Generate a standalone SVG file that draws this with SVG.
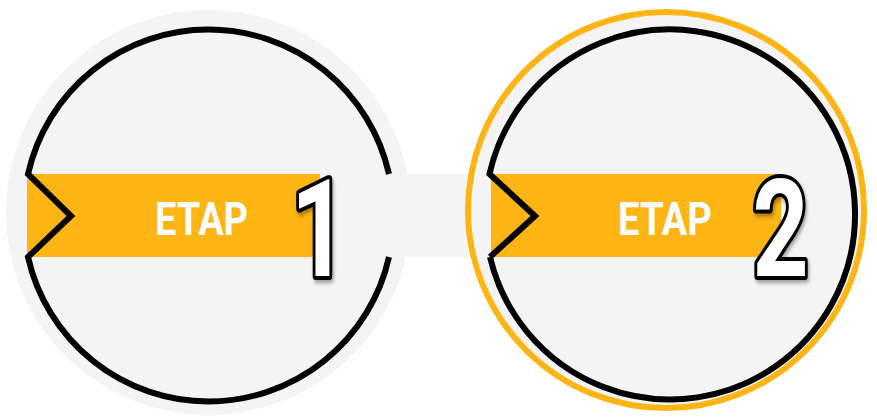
<svg xmlns="http://www.w3.org/2000/svg" width="877" height="420" viewBox="0 0 877 420">
  <style>
    .disc { fill: #F4F4F4; }
    .ring { fill: none; stroke: #000; stroke-width: 6; stroke-linejoin: miter; }
    .band { fill: #FDB515; }
    .label { font-family: Roboto, "Liberation Sans", sans-serif; font-weight: bold; font-size: 46px; fill: #fff; }
    .num { font-family: Roboto, "Open Sans", sans-serif; font-weight: bold; font-size: 136px; fill: #fff; stroke: #000; stroke-width: 8; stroke-linejoin: round; paint-order: stroke; }
  </style>
  <defs>
    <filter id="shadow" x="-30%" y="-30%" width="160%" height="160%">
      <feDropShadow dx="2" dy="3" stdDeviation="2" flood-color="#000" flood-opacity="0.35"/>
    </filter>
  </defs>
  <rect width="877" height="420" fill="#fff"/>

  <g id="connectors">
    <rect x="312" y="174" width="175" height="83" class="disc"/>
  </g>

  <g id="step1">
    <circle cx="208.5" cy="212.5" r="202.5" class="disc"/>
    <rect x="312" y="174" width="175" height="83" class="disc"/>
    <rect x="27" y="174" width="293" height="83" class="band"/>
    <path class="ring" d="M389,174 A185,185 0 0 0 28,174 L71,216 L28,257 A185,185 0 0 0 389,257"/>
    <text class="label" x="155" y="235" textLength="93" lengthAdjust="spacingAndGlyphs">ETAP</text>
    <g transform="translate(319,276) scale(0.72,1)" filter="url(#shadow)">
      <text class="num" x="0" y="0" text-anchor="middle">1</text>
    </g>
  </g>

  <g id="step2">
    <circle cx="666" cy="210" r="198" class="disc" stroke="#FDB515" stroke-width="6"/>
    <rect x="491" y="174" width="290" height="83" class="band"/>
    <path class="ring" d="M490,257 L535,216 L489.5,174 A185,185 0 1 1 490,257"/>
    <text class="label" x="618" y="235" textLength="94" lengthAdjust="spacingAndGlyphs">ETAP</text>
    <g transform="translate(780.5,276) scale(0.72,1)" filter="url(#shadow)">
      <text class="num" x="0" y="0" text-anchor="middle">2</text>
    </g>
  </g>
</svg>
